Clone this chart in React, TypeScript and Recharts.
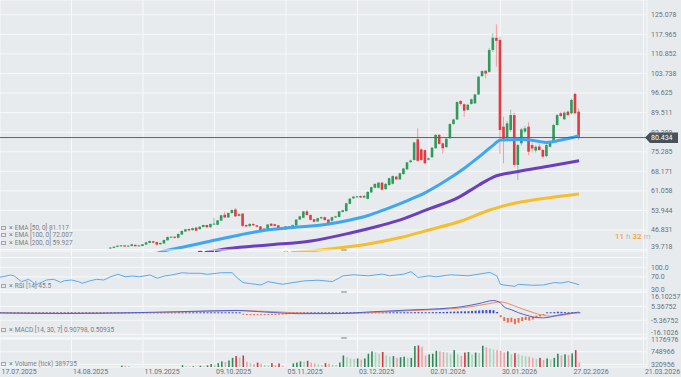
import React from "react";
import { ComposedChart, Bar, Line, XAxis, YAxis, CartesianGrid, ReferenceLine } from "recharts";

// silver daily, index 0 = 17.07.2025, one step per trading day
const DATE_TICKS = [0, 20, 40, 60, 80, 100, 120, 140, 160, 180];
const DATE_LABELS = [
  "17.07.2025", "14.08.2025", "11.09.2025", "09.10.2025", "05.11.2025",
  "03.12.2025", "02.01.2026", "30.01.2026", "27.02.2026", "21.03.2026",
];

const PRICE_TICKS = [125.078, 117.965, 110.852, 103.738, 96.625, 89.511, 82.398, 75.285, 68.171, 61.058, 53.944, 46.831, 39.718];
const RSI_TICKS = [100, 70, 30];
const MACD_TICKS = [16.10257, 5.36752, -5.36752, -16.1026];
const VOL_TICKS = [1176976, 748966, 320956];

const LAST_PRICE = 80.434;
const FIRST_BAR = 31; // earlier candles sit below the visible price range

// [open, high, low, close]
const ohlc: [number, number, number, number][] = [
  // 31-40
  [40.25, 40.6, 40.1, 40.45], [40.35, 40.9, 40.2, 40.75], [40.75, 41.3, 40.6, 41.15], [40.95, 41.4, 40.8, 41.25], [41.25, 41.4, 40.7, 40.85],
  [40.85, 41.3, 40.7, 41.15], [41.05, 41.8, 40.9, 41.65], [41.45, 41.6, 40.8, 40.95], [41.05, 41.4, 40.9, 41.25], [41.05, 41.8, 40.9, 41.65],
  // 41-50
  [41.55, 42.5, 41.4, 42.35], [42.15, 43.0, 42.0, 42.85], [42.75, 42.9, 42.1, 42.25], [42.45, 42.6, 41.2, 41.55], [41.65, 42.3, 41.5, 42.15],
  [41.95, 43.4, 41.8, 43.2], [43.1, 44.5, 43.0, 44.3], [44.1, 44.6, 43.9, 44.4], [44.4, 44.6, 43.8, 44.0], [44.0, 45.6, 43.8, 45.4],
  // 51-60
  [45.2, 46.7, 45.0, 46.5], [46.3, 47.3, 46.1, 47.1], [47.2, 47.4, 46.3, 46.7], [46.8, 47.7, 46.6, 47.5], [47.7, 47.9, 46.4, 46.6],
  [47.15, 48.2, 47.0, 48.05], [47.95, 48.8, 47.8, 48.65], [48.65, 48.8, 47.6, 47.85], [47.85, 49.2, 47.7, 49.05], [48.85, 51.3, 48.7, 49.15],
  // 61-70
  [48.75, 50.5, 48.6, 50.35], [50.25, 52.4, 50.1, 52.2], [52.4, 53.5, 51.2, 51.4], [51.4, 53.2, 51.2, 53.0], [53.0, 54.3, 52.8, 54.1],
  [54.3, 54.8, 51.6, 51.8], [52.0, 52.9, 51.8, 52.6], [52.8, 53.0, 48.0, 48.35], [48.65, 48.9, 47.9, 48.15], [48.25, 49.3, 48.0, 49.05],
  // 71-80
  [49.05, 49.2, 48.3, 48.55], [48.55, 48.7, 47.9, 48.05], [48.15, 48.3, 46.6, 46.85], [46.75, 47.5, 46.5, 47.35], [47.25, 49.0, 47.1, 48.85],
  [49.15, 49.3, 48.2, 48.35], [48.95, 49.1, 48.1, 48.35], [48.55, 48.7, 47.4, 47.55], [47.75, 47.9, 46.8, 47.05], [47.05, 48.3, 46.9, 48.15],
  // 81-90
  [48.15, 48.3, 47.5, 47.65], [47.85, 48.8, 47.7, 48.65], [48.45, 50.8, 48.3, 50.65], [50.65, 52.0, 50.5, 51.8], [51.3, 53.8, 51.1, 53.6],
  [53.6, 54.1, 52.1, 52.3], [52.3, 52.5, 50.3, 50.55], [50.75, 50.9, 49.6, 49.85], [49.95, 51.3, 49.8, 51.15], [51.05, 51.7, 50.8, 51.5],
  // 91-100
  [51.5, 51.7, 50.2, 50.45], [50.65, 50.8, 49.0, 49.25], [50.25, 51.7, 49.2, 51.5], [51.4, 52.0, 51.2, 51.8], [51.6, 53.8, 51.4, 53.6],
  [53.4, 54.2, 53.2, 54.0], [53.7, 56.8, 53.5, 56.55], [56.35, 58.5, 56.2, 58.25], [58.35, 59.2, 58.1, 58.95], [58.75, 59.3, 58.5, 59.05],
  // 101-110
  [59.15, 59.4, 58.4, 58.65], [58.65, 59.5, 58.4, 59.25], [58.15, 60.9, 58.0, 60.7], [60.5, 62.6, 60.3, 62.4], [62.2, 63.8, 62.0, 63.6],
  [62.2, 64.3, 62.0, 64.05], [64.05, 64.3, 61.2, 61.5], [61.7, 63.9, 61.4, 63.6], [63.15, 65.9, 63.0, 65.65], [63.65, 66.7, 63.4, 66.45],
  // 111-120
  [66.25, 66.5, 65.0, 65.25], [65.25, 67.7, 65.0, 67.45], [67.15, 69.4, 67.0, 69.2], [68.9, 71.6, 68.7, 71.4], [71.5, 72.4, 71.2, 72.1],
  [72.3, 78.9, 72.0, 78.65], [79.8, 83.8, 71.6, 72.0], [76.15, 76.5, 72.0, 72.3], [75.85, 76.2, 70.6, 71.1], [72.4, 73.2, 72.1, 72.9],
  // 121-130
  [73.3, 77.0, 73.0, 76.75], [76.55, 81.7, 76.3, 81.4], [81.4, 81.7, 77.9, 78.15], [78.35, 78.6, 74.6, 76.55], [76.95, 80.3, 76.7, 80.0],
  [80.2, 85.6, 79.9, 85.35], [85.35, 87.3, 85.1, 87.0], [87.0, 93.6, 86.8, 93.35], [93.75, 94.0, 92.0, 92.65], [92.55, 92.8, 88.0, 90.2],
  // 131-140
  [90.5, 92.6, 90.2, 92.35], [92.65, 94.6, 92.4, 94.35], [92.85, 96.4, 92.6, 96.1], [96.1, 102.8, 95.9, 102.55], [102.75, 104.9, 102.5, 104.6],
  [104.7, 105.0, 101.9, 103.7], [104.3, 113.0, 104.0, 112.25], [112.25, 118.4, 111.5, 116.7], [116.7, 121.6, 106.2, 115.6], [115.9, 117.0, 74.5, 83.2],
  // 141-150
  [84.4, 88.0, 71.1, 79.55], [80.2, 86.5, 79.8, 85.6], [83.2, 90.6, 82.5, 88.6], [88.6, 89.5, 69.8, 70.5], [70.5, 78.2, 65.0, 77.7],
  [78.35, 84.0, 77.5, 83.4], [82.6, 84.6, 82.0, 83.8], [84.4, 86.0, 74.0, 75.3], [77.7, 78.5, 75.0, 76.5], [75.7, 77.6, 75.0, 77.1],
  // 151-160
  [77.2, 78.3, 75.6, 75.9], [75.9, 76.3, 72.8, 73.5], [73.7, 78.1, 73.3, 77.7], [77.1, 79.3, 76.8, 78.9], [78.9, 85.4, 78.6, 85.0],
  [85.0, 89.0, 84.7, 88.6], [89.25, 89.8, 87.8, 88.3], [87.1, 90.0, 86.8, 89.5], [89.85, 90.3, 88.2, 88.6], [89.25, 94.5, 88.9, 94.1],
  // 161-162
  [96.3, 96.7, 88.9, 89.25], [89.85, 91.0, 79.6, 80.434],
];

// tick volume, same bars as ohlc
const volumes = [
  205000, 190000, 215000, 275000, 270000, 265000, 200000, 185000, 210000, 220000,
  195000, 205000, 215000, 200000, 225000, 210000, 220000, 215000, 205000, 225000,
  290000, 262000, 250000, 255000, 240000, 275000, 265000, 285000, 330000, 310000,
  360000, 420000, 400000, 450000, 540000, 600000, 560000, 620000, 410000, 360000,
  330000, 380000, 340000, 300000, 280000, 360000, 300000, 350000, 270000, 240000,
  230000, 350000, 380000, 420000, 410000, 440000, 380000, 350000, 330000, 300000,
  360000, 340000, 310000, 300000, 380000, 620000, 560000, 520000, 500000, 520000,
  480000, 520000, 680000, 760000, 720000, 680000, 740000, 620000, 580000, 600000,
  540000, 560000, 580000, 540000, 540000, 940000, 960000, 920000, 620000, 660000,
  680000, 780000, 760000, 740000, 720000, 660000, 800000, 660000, 600000, 720000,
  740000, 660000, 720000, 700000, 950000, 900000, 860000, 820000, 800000, 780000,
  720000, 760000, 660000, 700000, 660000, 620000, 600000, 580000, 540000, 510000,
  540000, 470000, 520000, 490000, 540000, 680000, 630000, 660000, 630000, 690000,
  800000, 389735,
];

// moving averages read at points along the curves: [bar, value]
const ema50: [number, number][] = [
  [42, 37.4], [45, 38.9], [52, 40.85], [59, 42.85], [65, 44.5], [73, 46.5], [82, 47.75], [91, 48.85],
  [98, 50.5], [103, 52.1], [108, 54.45], [114, 57.55], [119, 60.45], [125, 65.0], [130, 69.4], [134, 73.4],
  [138, 77.7], [140, 79.55], [146, 79.7], [150, 79.2], [153, 78.65], [157, 79.55], [162, 81.117],
];
const ema100: [number, number][] = [
  [56, 38.3], [64, 40.1], [75, 41.4], [87, 42.85], [98, 45.75], [106, 48.3], [112, 50.5], [120, 54.5],
  [128, 58.5], [134, 63.2], [138, 66.1], [145, 68.1], [153, 69.9], [162, 72.007],
];
const ema200: [number, number][] = [
  [80, 38.4], [92, 39.95], [103, 41.75], [112, 44.1], [120, 46.85], [129, 50.1], [137, 54.1], [143, 56.3],
  [151, 58.1], [162, 59.927],
];

const rsi14: [number, number][] = [
  [0, 68.8], [3, 75.9], [4, 72.8], [6, 55], [8, 62.5], [9, 55], [10, 44.7], [12, 55], [13, 60.3], [15, 62.5],
  [17, 53.1], [18, 58.1], [20, 60.3], [22, 55], [23, 50], [25, 57.2], [27, 62.5], [29, 60.3], [31, 70.6], [33, 78.1],
  [35, 70.6], [37, 72.8], [39, 70.6], [42, 75.9], [44, 65.6], [46, 72.8], [48, 75.9], [51, 83.1], [53, 81.3], [56, 81.3],
  [58, 78.1], [62, 83.1], [65, 83.1], [66, 70.6], [68, 52.2], [70, 49.1], [73, 44.7], [75, 55.3], [79, 46.9], [82, 52.2],
  [85, 57.5], [89, 59.7], [93, 55.3], [96, 73.4], [99, 76.6], [103, 73.4], [107, 78.8], [109, 73.4], [113, 78.8], [115, 86.3],
  [117, 68.1], [120, 73.4], [122, 70.3], [126, 76.6], [131, 73.4], [134, 78.8], [137, 84.1], [139, 73.4], [140, 46.9], [141, 44.7],
  [144, 40.6], [145, 46.9], [149, 43.8], [152, 44.7], [155, 52.2], [157, 50.9], [159, 55.3], [162, 45.5],
];

const macdLine: [number, number][] = [
  [0, 0.3], [17, -0.2], [34, 0.3], [50, 1.2], [66, 2.2], [74, 1.0], [84, -0.3], [95, -0.2], [103, 1.0], [115, 2.6],
  [123, 3.5], [129, 5.0], [134, 7.5], [138, 9.8], [140, 8.0], [141, 5.0], [143, 2.8], [145, 0.5], [148, -2.0], [150, -3.3],
  [152, -3.5], [154, -2.8], [156, -1.5], [158, -0.6], [160, 0.2], [162, 0.90798],
];
const macdSignal: [number, number][] = [
  [0, 0.3], [17, 0], [34, 0.2], [50, 1.0], [67, 2.0], [77, 1.2], [87, 0], [97, -0.1], [106, 0.8], [117, 2.3],
  [126, 3.4], [131, 4.8], [137, 7.5], [140, 8.8], [142, 7.6], [144, 5.6], [146, 3.5], [148, 1.6], [150, -0.2], [152, -1.5],
  [154, -2.2], [156, -2.0], [158, -1.2], [160, -0.2], [162, 0.50935],
];
// histogram from bar 0
const macdHist = [
  0.5, 0.5, 0.4, 0.4, 0.3, 0.3, 0.3, 0.4, 0.4, 0.5,
  0.5, 0.4, 0.4, 0.3, 0.3, 0.3, 0.4, 0.4, 0.5, 0.5,
  0.5, 0.4, 0.4, 0.5, 0.5, 0.6, 0.6, 0.5, 0.5, 0.6,
  0.6, 0.5, 0.5, 0.6, 0.6, 0.5, 0.5, 0.6, 0.6, 0.5,
  0.5, 0.6, 0.6, 0.5, 0.5, 0.6, 0.6, 0.7, 0.7, 0.6,
  0.6, 0.7, 0.7, 0.6, 0.6, 0.7, 0.7, 0.6, 0.6, 0.7,
  0.7, 0.6, 0.6, 0.5, 0.5, 0.4, 0.3, 0.2, -0.3, -0.5,
  -0.7, -0.7, -0.7, -0.7, -0.6, -0.6, -0.5, -0.4, -0.3, -0.2,
  -0.1, 0.1, 0.2, 0.3, 0.4, 0.4, 0.3, 0.2, 0.2, 0.3,
  0.3, 0.3, 0.3, 0.4, 0.5, 0.6, 0.6, 0.7, 0.7, 0.7,
  0.7, 0.7, 0.6, 0.6, 0.7, 0.7, 0.6, 0.6, 0.6, 0.7,
  0.7, 0.7, 0.7, 0.8, 0.8, 0.8, 0.9, 0.9, 0.8, 0.8,
  0.8, 0.9, 0.9, 1.0, 1.0, 1.1, 1.2, 1.3, 1.4, 1.5,
  1.5, 1.6, 1.8, 2.0, 2.2, 2.4, 2.5, 2.6, 2.4, 1.0,
  -1.5, -3.0, -3.6, -3.4, -4.2, -3.6, -3.0, -2.6, -2.8, -2.4,
  -1.8, -1.2, -0.6, 0.3, 0.6, 0.9, 1.2, 1.1, 0.9, 0.7,
  0.6, 0.5, 0.4,
];

const FONT = "Roboto, Arial, sans-serif";
const BG = "#e8ebee";
const GRID = "#f7f8f9";
const AXIS_TEXT = "#6b7178";
const GREEN = "#2f9a5c";
const GREEN_WICK = "#86c29e";
const RED = "#e23a41";
const RED_WICK = "#ee9598";
const X_DOMAIN: [number, number] = [0, 181];

const candleRows = ohlc.map(([o, h, l, c], k) => ({ i: FIRST_BAR + k, o, h, l, c, range: [l, h] }));
const volRows = volumes.map((v, k) => ({
  i: FIRST_BAR + k,
  vol: v,
  up: ohlc[k][3] >= ohlc[k][0],
  rising: k === 0 || v >= volumes[k - 1],
}));
const histRows = macdHist.map((v, i) => ({ i, hist: v }));
const pts = (arr: [number, number][]) => arr.map(([i, v]) => ({ i, v }));

function Candle(props: any) {
  const { x, y, width, height, payload } = props;
  if (!payload || height == null) return null;
  const { o, h, l, c } = payload;
  const up = c >= o;
  const cx = x + width / 2;
  const span = h - l || 1;
  const toY = (v: number) => y + ((h - v) / span) * height;
  const top = toY(Math.max(o, c));
  const bot = toY(Math.min(o, c));
  return (
    <g>
      <line x1={cx} x2={cx} y1={y} y2={y + height} stroke={up ? GREEN_WICK : RED_WICK} strokeWidth={0.9} />
      <rect x={cx - 1.3} y={top} width={2.6} height={Math.max(bot - top, 0.9)} fill={up ? GREEN : RED} />
    </g>
  );
}

function VolumeBar(props: any) {
  const { x, y, width, height, payload } = props;
  if (!payload || !(height > 0)) return null;
  const fill = payload.up
    ? (payload.rising ? "#2e8b57" : "#a9d6b9")
    : (payload.rising ? "#d8343c" : "#f0a3a6");
  const cx = x + width / 2;
  return <rect x={cx - 0.8} y={y} width={1.6} height={height} fill={fill} />;
}

function HistBar(props: any) {
  const { x, y, width, height, payload } = props;
  if (!payload) return null;
  const cx = x + width / 2;
  const hgt = Math.max(Math.abs(height), 1);
  const top = payload.hist >= 0 ? y + Math.abs(height) - hgt : y;
  return <rect x={cx - 1} y={top} width={2} height={hgt} fill={payload.hist >= 0 ? "#3f4fc8" : "#f06a4a"} />;
}

function makeTick(fmt: (v: number) => string, minY: number, maxY: number) {
  return (props: any) => {
    const { x, y, payload } = props;
    const yy = Math.min(Math.max(y, minY), maxY);
    return (
      <text x={x} y={yy} dy={2.4} fontSize={7} fill={AXIS_TEXT} fontFamily={FONT} textAnchor="start">
        {fmt(payload.value)}
      </text>
    );
  };
}

function DateTick(props: any) {
  const { x, y, payload } = props;
  const label = DATE_LABELS[DATE_TICKS.indexOf(payload.value)];
  return (
    <text x={x + 1.5} y={y + 7} fontSize={7} fill={AXIS_TEXT} fontFamily={FONT} textAnchor="start">
      {label}
    </text>
  );
}

function PriceTag(props: any) {
  const vb = props.viewBox;
  if (!vb) return null;
  const x = vb.x + vb.width - 2;
  const y = vb.y;
  return (
    <g>
      <polygon points={`${x},${y} ${x + 5},${y - 5} ${x + 33},${y - 5} ${x + 33},${y + 5.5} ${x + 5},${y + 5.5}`} fill="#46535c" />
      <text x={x + 6} y={y + 2.6} fontSize={7} fill="#ffffff" fontFamily={FONT}>{LAST_PRICE.toFixed(3)}</text>
    </g>
  );
}

function PanelLabel({ top, text }: { top: number; text: string }) {
  return (
    <div style={{ position: "absolute", left: 1, top, height: 8, display: "flex", alignItems: "center", whiteSpace: "nowrap", color: "#7b8086", fontSize: 6.5, fontFamily: FONT }}>
      <span style={{ display: "inline-block", width: 5, height: 4, border: "1px solid #a0a6ab", boxSizing: "border-box", marginRight: 3 }} />
      <span style={{ fontSize: 7, marginRight: 2 }}>×</span>
      <span>{text}</span>
    </div>
  );
}

const hiddenX = <XAxis type="number" dataKey="i" domain={X_DOMAIN} ticks={DATE_TICKS} hide allowDataOverflow />;

export default function App() {
  return (
    <div style={{ position: "absolute", left: 0, top: 0, width: 681, height: 377, background: BG, overflow: "hidden", fontFamily: FONT }}>
      {/* RSI panel top border */}
      <div style={{ position: "absolute", left: 0, top: 257, width: 647, height: 1, background: GRID }} />

      {/* price */}
      <div style={{ position: "absolute", left: 0, top: 0 }}>
        <ComposedChart width={681} height={252} data={candleRows} margin={{ top: 0, right: 0, bottom: 0, left: 0 }}>
          <CartesianGrid stroke={GRID} />
          {hiddenX}
          <YAxis orientation="right" width={34} domain={[38.85, 130.42]} ticks={PRICE_TICKS} interval={0} allowDataOverflow
            axisLine={false} tickLine={false} tickSize={0} tickMargin={4} tick={makeTick((v) => v.toFixed(3), 6, 247)} />
          <Bar dataKey="range" barSize={2.6} shape={<Candle />} isAnimationActive={false} />
          <Line data={pts(ema200)} dataKey="v" type="monotone" stroke="#f6be2c" strokeWidth={3} dot={false} isAnimationActive={false} />
          <Line data={pts(ema100)} dataKey="v" type="monotone" stroke="#6b3fc0" strokeWidth={3} dot={false} isAnimationActive={false} />
          <Line data={pts(ema50)} dataKey="v" type="monotone" stroke="#3ea6f2" strokeWidth={3} dot={false} isAnimationActive={false} />
          <ReferenceLine y={LAST_PRICE} stroke="#5a646c" strokeWidth={1} label={<PriceTag />} />
        </ComposedChart>
      </div>

      {/* RSI */}
      <div style={{ position: "absolute", left: 0, top: 246 }}>
        <ComposedChart width={681} height={50} margin={{ top: 4, right: 0, bottom: 4, left: 0 }}>
          <CartesianGrid stroke={GRID} />
          {hiddenX}
          <YAxis orientation="right" width={34} domain={[22.81, 154.06]} ticks={RSI_TICKS} interval={0} allowDataOverflow
            axisLine={false} tickLine={false} tickSize={0} tickMargin={4} tick={makeTick((v) => v.toFixed(1), 0, 100)} />
          <Line data={pts(rsi14)} dataKey="v" type="linear" stroke="#5aa9ef" strokeWidth={1} dot={false} isAnimationActive={false} />
        </ComposedChart>
      </div>

      {/* MACD */}
      <div style={{ position: "absolute", left: 0, top: 288 }}>
        <ComposedChart width={681} height={54} data={histRows} margin={{ top: 4, right: 0, bottom: 4, left: 0 }}>
          <CartesianGrid stroke={GRID} />
          {hiddenX}
          <YAxis orientation="right" width={34} domain={[-19.0, 16.38]} ticks={MACD_TICKS} interval={0} allowDataOverflow
            axisLine={false} tickLine={false} tickSize={0} tickMargin={4} tick={makeTick((v) => String(v), 9, 45)} />
          <Bar dataKey="hist" barSize={2} shape={<HistBar />} isAnimationActive={false} />
          <Line data={pts(macdSignal)} dataKey="v" type="monotone" stroke="#f08a68" strokeWidth={1} dot={false} isAnimationActive={false} />
          <Line data={pts(macdLine)} dataKey="v" type="monotone" stroke="#5560c8" strokeWidth={1} dot={false} isAnimationActive={false} />
        </ComposedChart>
      </div>

      {/* volume + dates */}
      <div style={{ position: "absolute", left: 0, top: 330 }}>
        <ComposedChart width={681} height={47} data={volRows} margin={{ top: 8, right: 0, bottom: 0, left: 0 }}>
          <CartesianGrid stroke={GRID} />
          <XAxis type="number" dataKey="i" domain={X_DOMAIN} ticks={DATE_TICKS} interval={0} allowDataOverflow height={10}
            axisLine={false} tickLine={false} tickSize={0} tickMargin={0} tick={<DateTick />} />
          <YAxis orientation="right" width={34} domain={[229250, 1214300]} ticks={VOL_TICKS} interval={0} allowDataOverflow
            axisLine={false} tickLine={false} tickSize={0} tickMargin={4} tick={makeTick((v) => String(v), 10, 100)} />
          <Bar dataKey="vol" barSize={2} shape={<VolumeBar />} isAnimationActive={false} />
        </ComposedChart>
      </div>

      {/* panel handles */}
      {[249, 291, 337].map((t) => (
        <div key={t} style={{ position: "absolute", left: 341, top: t, width: 6, height: 2, background: "#b3b9be", borderRadius: 1 }} />
      ))}

      <PanelLabel top={223.5} text="EMA [50, 0] 81.117" />
      <PanelLabel top={231} text="EMA [100, 0] 72.007" />
      <PanelLabel top={238.5} text="EMA [200, 0] 59.927" />
      <PanelLabel top={282} text="RSI [14] 45.5" />
      <PanelLabel top={326} text="MACD [14, 30, 7] 0.90798,  0.50935" />
      <PanelLabel top={359.5} text="Volume (tick) 389735" />

      <div style={{ position: "absolute", left: 615, top: 232, fontSize: 8, fontFamily: FONT, whiteSpace: "nowrap" }}>
        <span style={{ color: "#f5a623", fontWeight: 500 }}>11</span>
        <span style={{ color: "#b8bcc0" }}> h </span>
        <span style={{ color: "#f5a623", fontWeight: 500 }}>32</span>
        <span style={{ color: "#b8bcc0" }}> m</span>
      </div>
    </div>
  );
}
